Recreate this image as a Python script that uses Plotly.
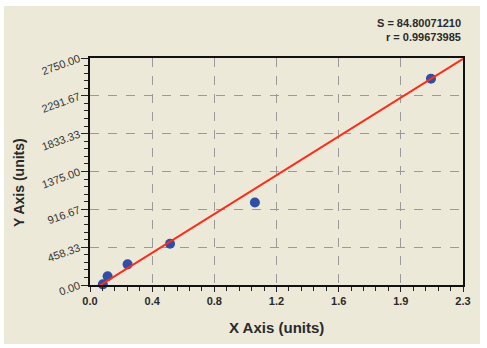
import plotly.graph_objects as go
import numpy as np

# Data
x_vals = [0.08, 0.11, 0.235, 0.50, 1.03, 2.13]
y_vals = [8, 105, 250, 500, 1000, 2500]
fit_slope = 1210.0
fit_intercept = -80.0
fit_x = [0.055, 2.33]
x_range = [0, 2.33]
y_range = [0, 2750]
x_tick_text = ["0.0", "0.4", "0.8", "1.2", "1.6", "1.9", "2.3"]
y_tick_text = ["0.00", "458.33", "916.67", "1375.00", "1833.33", "2291.67", "2750.00"]
stats_text = ["S = 84.80071210", "r = 0.99673985"]

W, H = 487, 348
L, R, T, B = 90, 463, 58, 285
pw, ph = R - L, B - T

def px(xp):
    return (xp - L) / pw

def py(yp):
    return (B - yp) / ph

x_major = list(np.linspace(x_range[0], x_range[1], len(x_tick_text)))
y_major = list(np.linspace(y_range[0], y_range[1], len(y_tick_text)))
x_minor = list(np.linspace(x_range[0], x_range[1], (len(x_tick_text) - 1) * 5 + 1))
y_minor = list(np.linspace(y_range[0], y_range[1], (len(y_tick_text) - 1) * 5 + 1))

fit_y = [fit_slope * v + fit_intercept for v in fit_x]

fig = go.Figure()
fig.add_trace(go.Scatter(
    x=x_vals, y=y_vals, mode="markers",
    marker=dict(color="#2f4fa6", size=10, line=dict(width=0)),
    showlegend=False, cliponaxis=False,
))
fig.add_trace(go.Scatter(
    x=fit_x, y=fit_y, mode="lines",
    line=dict(color="#ff2a1a", width=2),
    showlegend=False,
))

tick_font = dict(family="Liberation Sans, Arial", size=11, color="#333333")

fig.update_layout(
    width=W, height=H,
    margin=dict(l=L, r=W - R, t=T, b=H - B, pad=0),
    paper_bgcolor="white",
    plot_bgcolor="white",
    xaxis=dict(
        range=x_range, tickmode="array", tickvals=x_major, ticktext=x_tick_text,
        ticks="outside", ticklen=5, tickcolor="#222", tickwidth=1,
        tickfont=dict(family="Liberation Sans, Arial", size=11, color="#2a2a2a", weight="bold"),
        showgrid=True, gridcolor="#9a9a9a", griddash="dash", gridwidth=1,
        showline=True, linecolor="#111", linewidth=1.5, mirror=True,
        zeroline=False,
        minor=dict(tickmode="array", tickvals=x_minor, ticks="outside", ticklen=4,
                   tickcolor="#222", showgrid=False),
    ),
    yaxis=dict(
        range=y_range, tickmode="array", tickvals=y_major, ticktext=y_tick_text,
        ticks="outside", ticklen=7, tickcolor="#222", tickwidth=1,
        tickangle=-20,
        tickfont=tick_font,
        showgrid=True, gridcolor="#9a9a9a", griddash="dash", gridwidth=1,
        showline=True, linecolor="#111", linewidth=1.5, mirror=True,
        zeroline=False,
        minor=dict(tickmode="array", tickvals=y_minor, ticks="outside", ticklen=4,
                   tickcolor="#222", showgrid=False),
    ),
    shapes=[dict(
        type="rect", xref="paper", yref="paper", layer="below",
        x0=px(4), x1=px(480), y0=py(344), y1=py(6),
        fillcolor="#ece9d8", line=dict(width=0),
    )],
    annotations=[
        dict(text="<b>X Axis (units)</b>", xref="paper", yref="paper",
             x=0.5, y=py(327), xanchor="center", yanchor="middle", showarrow=False,
             font=dict(family="Liberation Sans, Arial", size=15, color="#2a2a2a")),
        dict(text="<b>Y Axis (units)</b>", xref="paper", yref="paper", textangle=-90,
             x=px(19), y=py(183), xanchor="center", yanchor="middle", showarrow=False,
             font=dict(family="Liberation Sans, Arial", size=14, color="#2a2a2a")),
        dict(text="<b>" + stats_text[0] + "</b>", xref="paper", yref="paper",
             x=px(463), y=py(23), xanchor="right", yanchor="middle", showarrow=False,
             font=dict(family="Liberation Sans, Arial", size=11, color="#2a2a2a")),
        dict(text="<b>" + stats_text[1] + "</b>", xref="paper", yref="paper",
             x=px(463), y=py(37), xanchor="right", yanchor="middle", showarrow=False,
             font=dict(family="Liberation Sans, Arial", size=11, color="#2a2a2a")),
    ],
)

fig.write_html("out.html")
